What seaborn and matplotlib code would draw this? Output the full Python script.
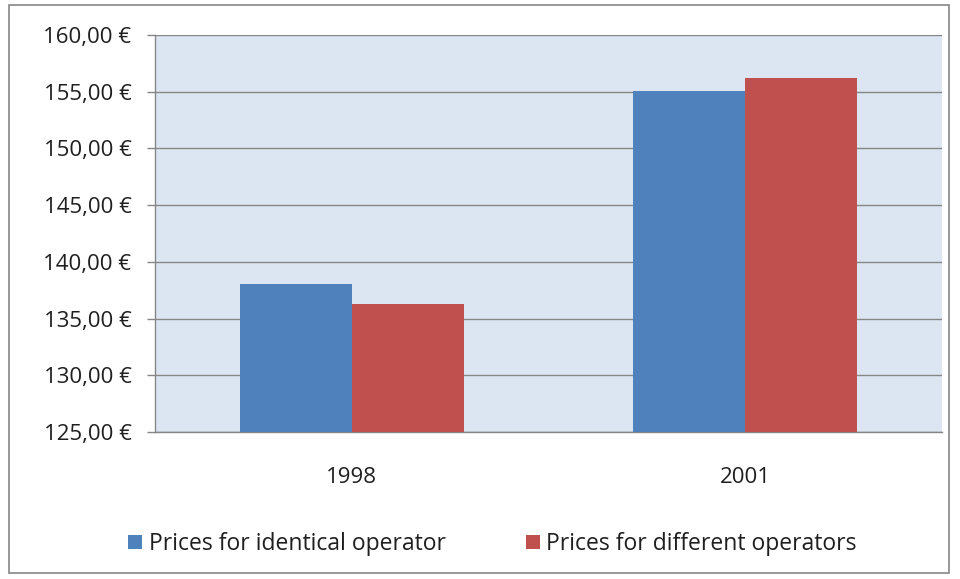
import seaborn as sns
import matplotlib.pyplot as plt
import matplotlib.ticker as mticker
from matplotlib.patches import Rectangle
import pandas as pd

# values
years = ["1998", "2001"]
identical = [138.0, 155.05]
different = [136.25, 156.2]
series_names = ["Prices for identical operator", "Prices for different operators"]

df = pd.DataFrame({
    "year": years * 2,
    "price": identical + different,
    "series": [series_names[0]] * 2 + [series_names[1]] * 2,
})

sns.set_theme(style="white")
plt.rcParams["font.family"] = ["Open Sans", "DejaVu Sans"]
txt = "#1f1f1f"

fig = plt.figure(figsize=(9.6, 5.79), dpi=100)
ax = fig.add_axes([0.1615, 0.254, 0.8198, 0.6856])

sns.barplot(data=df, x="year", y="price", hue="series",
            palette=["#4F81BD", "#C0504D"], width=0.57, saturation=1,
            ax=ax, zorder=3)
for p in ax.patches:
    p.set_edgecolor("none")

ax.set_facecolor("#DCE6F2")
ax.set_ylim(125, 160)
ax.set_xlim(-0.5, 1.5)
ax.yaxis.set_major_locator(mticker.MultipleLocator(5))
ax.yaxis.set_major_formatter(mticker.FuncFormatter(lambda v, _: f"{v:.2f}".replace(".", ",") + " €"))
ax.grid(axis="y", color="#868686", lw=1, zorder=0)
ax.set_axisbelow(True)

ax.set_xticks([-0.5, 0.5, 1.5], minor=True)
ax.tick_params(axis="x", which="major", length=0, pad=25, labelsize=16, labelcolor=txt)
ax.tick_params(axis="x", which="minor", length=6, color="#868686", width=1, direction="out")
ax.tick_params(axis="y", length=6, color="#868686", width=1, direction="out", pad=11,
               labelsize=16, labelcolor=txt, left=True)
ax.set_xlabel("")
ax.set_ylabel("")

for side in ["top", "right"]:
    ax.spines[side].set_visible(False)
for side in ["left", "bottom"]:
    ax.spines[side].set_color("#868686")
    ax.spines[side].set_linewidth(1)

leg = ax.legend(loc="center", bbox_to_anchor=(0.513, 0.06), bbox_transform=fig.transFigure,
                ncol=2, frameon=False, fontsize=16.5, handlelength=0.6, handleheight=0.6,
                handletextpad=0.3, columnspacing=3.5)
for t in leg.get_texts():
    t.set_color(txt)

fig.patches.append(Rectangle((0.009, 0.01), 0.98, 0.982, transform=fig.transFigure,
                             fill=False, edgecolor="#868686", lw=1.2))

fig.savefig("out.png", dpi=100, facecolor="white")
